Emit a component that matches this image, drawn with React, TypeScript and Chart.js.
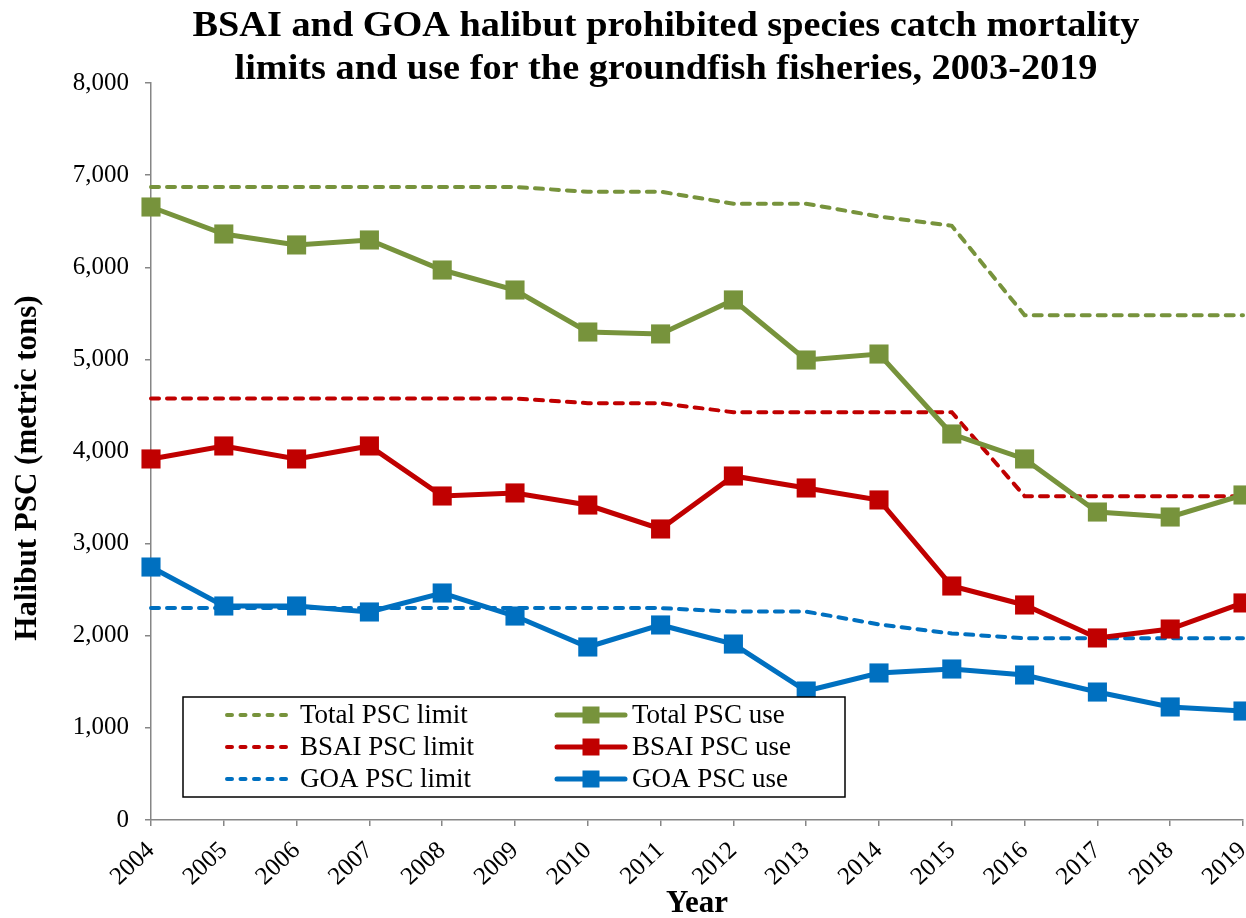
import React, { useEffect, useRef } from "react";
import { Chart, registerables } from "chart.js";
Chart.register(...registerables);

const years = ["2004","2005","2006","2007","2008","2009","2010","2011","2012","2013","2014","2015","2016","2017","2018","2019"];
const totalLimit = [6870,6870,6870,6870,6870,6870,6820,6820,6690,6690,6550,6450,5480,5480,5480,5480];
const bsaiLimit = [4575,4575,4575,4575,4575,4575,4525,4525,4426,4426,4426,4426,3515,3515,3515,3515];
const goaLimit = [2300,2300,2300,2300,2300,2300,2300,2300,2262,2262,2123,2025,1973,1973,1973,1973];
const totalUse = [6654,6361,6242,6296,5970,5753,5297,5276,5645,4993,5058,4190,3919,3343,3289,3528];
const bsaiUse = [3919,4060,3919,4060,3517,3550,3419,3159,3734,3604,3474,2540,2334,1976,2073,2356];
const goaUse = [2746,2323,2323,2258,2464,2214,1878,2117,1910,1400,1596,1639,1574,1389,1227,1183];

const titleLines = ["BSAI and GOA halibut prohibited species catch mortality", "limits and use for the groundfish fisheries, 2003-2019"];
const yTitle = "Halibut PSC (metric tons)";
const xTitle = "Year";

const GREEN = "#77933C";
const RED = "#C00000";
const BLUE = "#0070C0";
const AXIS = "#868686";
const SERIF = "'Liberation Serif', 'Times New Roman', serif";

const useDs = (label: string, data: number[], color: string) => ({
  label, data, borderColor: color, backgroundColor: color,
  borderWidth: 5, pointStyle: "rect", pointRadius: 13.5, pointBorderWidth: 0,
  pointBackgroundColor: color, tension: 0, kind: "use", clip: false,
});
const limitDs = (label: string, data: number[], color: string) => ({
  label, data, borderColor: color, backgroundColor: color,
  borderWidth: 4, borderDash: [8, 8], borderCapStyle: "round", pointRadius: 0, tension: 0, kind: "limit", clip: false,
});

const textPlugin = {
  id: "texts",
  afterDraw(chart: any) {
    const ctx = chart.ctx;
    const ca = chart.chartArea;
    ctx.save();
    ctx.fillStyle = "#000";
    ctx.textAlign = "center";
    ctx.textBaseline = "alphabetic";
    ctx.font = `bold 36px ${SERIF}`;
    const w1 = ctx.measureText(titleLines[0]).width;
    const sx = 947 / w1;
    ctx.save();
    ctx.translate(666, 0);
    ctx.scale(sx, 1);
    ctx.fillText(titleLines[0], 0, 36);
    ctx.fillText(titleLines[1], 0, 79);
    ctx.restore();
    ctx.font = `bold 31px ${SERIF}`;
    ctx.fillText(xTitle, (ca.left + ca.right) / 2, 912);
    ctx.save();
    ctx.translate(36, 468);
    ctx.rotate(-Math.PI / 2);
    ctx.fillText(yTitle, 0, 0);
    ctx.restore();

    // legend box
    const bx = 183, by = 697, bw = 662, bh = 100;
    ctx.fillStyle = "#fff";
    ctx.fillRect(bx, by, bw, bh);
    ctx.strokeStyle = "#000";
    ctx.lineWidth = 1.5;
    ctx.strokeRect(bx, by, bw, bh);
    const ds = chart.data.datasets;
    const limits = ds.filter((d: any) => d.kind === "limit");
    const uses = ds.filter((d: any) => d.kind === "use");
    const rows = [715, 747, 779];
    ctx.font = `27px ${SERIF}`;
    ctx.textAlign = "left";
    ctx.textBaseline = "middle";
    limits.forEach((d: any, i: number) => {
      const y = rows[i];
      ctx.save();
      ctx.strokeStyle = d.borderColor;
      ctx.lineWidth = d.borderWidth;
      ctx.lineCap = "round";
      ctx.setLineDash([5, 8.5]);
      ctx.beginPath();
      ctx.moveTo(227, y);
      ctx.lineTo(293, y);
      ctx.stroke();
      ctx.restore();
      ctx.fillStyle = "#000";
      ctx.fillText(d.label, 300, y + 1);
    });
    uses.forEach((d: any, i: number) => {
      const y = rows[i];
      ctx.save();
      ctx.strokeStyle = d.borderColor;
      ctx.lineWidth = d.borderWidth;
      ctx.lineCap = "round";
      ctx.beginPath();
      ctx.moveTo(557, y);
      ctx.lineTo(625, y);
      ctx.stroke();
      ctx.fillStyle = d.borderColor;
      const s = 17;
      ctx.fillRect(591 - s / 2, y - s / 2, s, s);
      ctx.restore();
      ctx.fillStyle = "#000";
      ctx.fillText(d.label, 632, y + 1);
    });
    ctx.restore();
  },
};

export default function App() {
  const ref = useRef<HTMLCanvasElement>(null);
  useEffect(() => {
    document.body.style.margin = "0";
    const chart = new Chart(ref.current!, {
      type: "line",
      data: {
        labels: years,
        datasets: [
          useDs("Total PSC use", totalUse, GREEN),
          useDs("BSAI PSC use", bsaiUse, RED),
          useDs("GOA PSC use", goaUse, BLUE),
          limitDs("Total PSC limit", totalLimit, GREEN),
          limitDs("BSAI PSC limit", bsaiLimit, RED),
          limitDs("GOA PSC limit", goaLimit, BLUE),
        ] as any,
      },
      options: {
        responsive: false,
        animation: false,
        devicePixelRatio: 1,
        layout: { autoPadding: false, padding: { left: 0, top: 83, right: 3, bottom: 0 } },
        plugins: { legend: { display: false }, title: { display: false }, tooltip: { enabled: false } },
        scales: {
          x: {
            offset: false,
            grid: { drawOnChartArea: false, drawTicks: true, tickLength: 6, color: AXIS, lineWidth: 1.5 },
            border: { color: AXIS, width: 1.5 },
            ticks: { color: "#000", font: { family: SERIF, size: 25 }, maxRotation: 43, minRotation: 43, padding: 10, autoSkip: false },
            afterFit: (s: any) => { s.height = 98; s.paddingLeft = 0; s.paddingRight = 0; },
          },
          y: {
            min: 0, max: 8000,
            grid: { drawOnChartArea: false, drawTicks: true, tickLength: 6, color: AXIS, lineWidth: 1.5 },
            border: { color: AXIS, width: 1.5 },
            ticks: {
              stepSize: 1000, color: "#000", font: { family: SERIF, size: 25 }, padding: 16,
              callback: (v: any) => Number(v).toLocaleString("en-US"),
            },
            afterFit: (s: any) => { s.width = 151; s.paddingTop = 0; s.paddingBottom = 0; },
          },
        },
      },
      plugins: [textPlugin],
    });
    return () => chart.destroy();
  }, []);
  return (
    <div style={{ position: "absolute", left: 0, top: 0, width: 1246, height: 918, background: "#fff" }}>
      <canvas ref={ref} width={1246} height={918} style={{ width: 1246, height: 918 }} />
    </div>
  );
}
